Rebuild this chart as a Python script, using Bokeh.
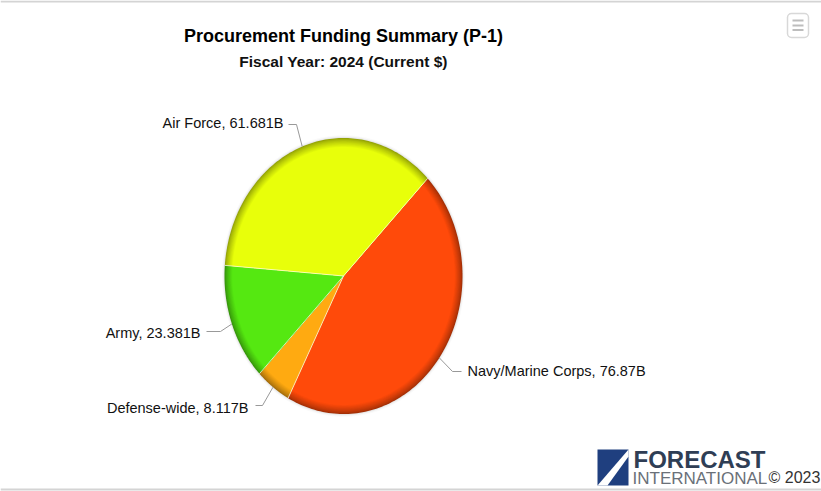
import numpy as np
from bokeh.plotting import figure
from bokeh.core.properties import value
from bokeh.embed import file_html
from bokeh.resources import INLINE

# ---- chart data, clockwise from the Air Force / Navy boundary ----
categories = ["Navy/Marine Corps", "Defense-wide", "Army", "Air Force"]
amounts = [76.87, 8.117, 23.381, 61.681]
amount_labels = ["76.87B", "8.117B", "23.381B", "61.681B"]
slice_colors = ["#FF4A0A", "#FFAA11", "#55E811", "#E8FF0A"]
title_text = "Procurement Funding Summary (P-1)"
subtitle_text = "Fiscal Year: 2024 (Current $)"

W, H = 821, 491
CX, CY, RX, RY = 343, 275.5, 119, 138
START_DEG = 45.0
FONT = value("Liberation Sans")

p = figure(width=W, height=H, x_range=(0, W), y_range=(H, 0), toolbar_location=None,
           output_backend="svg", min_border=0, outline_line_color=None,
           background_fill_color="white", border_fill_color="white",
           x_axis_location=None, y_axis_location=None)
p.grid.visible = False

# frame rules
p.quad(left=[0, 0], right=[W, W], top=[0, 488], bottom=[2, 490], fill_color="#D4D4D4", line_color=None)

amounts_arr = np.array(amounts)
fractions = amounts_arr / amounts_arr.sum()
edges = START_DEG + 360 * np.concatenate([[0], np.cumsum(fractions)])


def rim(deg, k=1.0):
    a = np.radians(deg)
    return CX + k * RX * np.sin(a), CY - k * RY * np.cos(a)


def sector(a0, a1, k):
    ang = np.linspace(a0, a1, 120)
    xs, ys = rim(ang, k)
    return [CX, *xs], [CY, *ys]


def mix(hex_color, f):
    c = [int(hex_color[i:i + 2], 16) for i in (1, 3, 5)]
    return "#%02x%02x%02x" % tuple(int(round(v * f)) for v in c)


for k, alpha in [(1.02, 0.03), (1.012, 0.05), (1.005, 0.08)]:
    xs, ys = rim(np.linspace(0, 360, 240), k)
    p.patch(xs, ys, fill_color="#555555", fill_alpha=alpha, line_color=None)

for i, col in enumerate(slice_colors):
    for s in np.linspace(0, 1, 11):
        k = 1.0 - 0.065 * s
        f = 0.64 + 0.36 * s ** 0.8
        xs, ys = sector(edges[i], edges[i + 1], k)
        p.patch(xs, ys, fill_color=mix(col, f), line_color=None)

for e in edges[:-1]:
    x, y = rim(e)
    p.line([CX, x], [CY, y], line_color="#FFFFFF", line_alpha=0.7, line_width=1)

# label anchors (page pixels) and connector knees
label_x = [467, 248, 200, 283]
label_y = [370, 407, 332, 122]
knee_x = [452, 262, 220, 296]
knee_y = [371, 405, 331, 124]
stub_x = [461, 255, 206, 288]
for i, cat in enumerate(categories):
    mid = (edges[i] + edges[i + 1]) / 2
    x0, y0 = rim(mid)
    p.line([x0, knee_x[i], stub_x[i]], [y0, knee_y[i], knee_y[i]], line_color="#999999", line_width=1)
    p.text([label_x[i]], [label_y[i]], text=[f"{cat}, {amount_labels[i]}"], text_font=FONT,
           text_font_size="14.5px", text_color="#111111",
           text_align="left" if i == 0 else "right", text_baseline="middle")

p.text([343], [35], text=[title_text], text_font=FONT, text_font_size="18px", text_font_style="bold",
       text_color="#000000", text_align="center", text_baseline="middle")
p.text([343], [61], text=[subtitle_text], text_font=FONT, text_font_size="15.5px", text_font_style="bold",
       text_color="#111111", text_align="center", text_baseline="middle")

# export menu button
p.quad(left=[787], right=[808], top=[13], bottom=[37], fill_color="white", line_color="#D8D8D8",
       line_width=1.5, border_radius=4)
for yy in (20, 25, 29.5):
    p.line([792, 803], [yy, yy], line_color="#BDBDBD", line_width=2)

# logo
p.quad(left=[597], right=[628], top=[449], bottom=[485], fill_color="#1F3F7F", line_color=None)
p.patch([597, 628, 628, 607], [485, 449, 456, 485], fill_color="#FFFFFF", line_color=None)
p.text([633], [459], text=["FORECAST"], text_font=FONT, text_font_size="24px", text_font_style="bold",
       text_color="#2F3E55", text_align="left", text_baseline="middle")
p.text([632], [478], text=["INTERNATIONAL"], text_font=FONT, text_font_size="17px",
       text_color="#6A7078", text_align="left", text_baseline="middle")
p.text([768], [477], text=["© 2023"], text_font=FONT, text_font_size="16px",
       text_color="#333333", text_align="left", text_baseline="middle")

open("out.html", "w").write(file_html(p, INLINE))
